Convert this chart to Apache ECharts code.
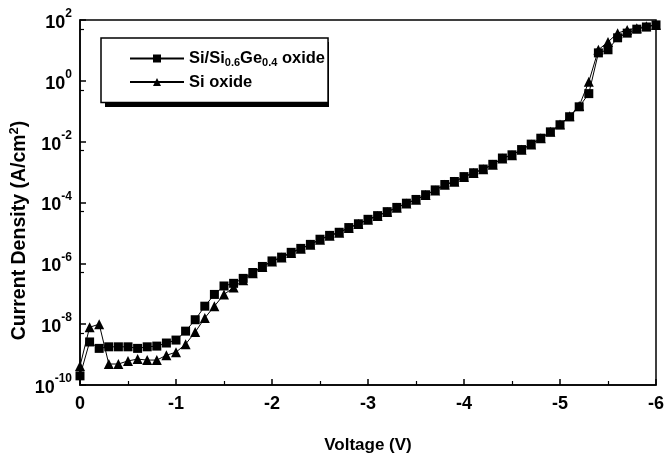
<!DOCTYPE html>
<html>
<head>
<meta charset="utf-8">
<script src="https://cdn.jsdelivr.net/npm/echarts@6/dist/echarts.min.js"></script>
<style>
  html, body { margin: 0; padding: 0; background: #fff; }
  #main { width: 666px; height: 457px; }
</style>
</head>
<body>
<div id="main"></div>
<script>
// gate voltage (V), 0.1 V steps
let voltage = [0, -0.1, -0.2, -0.3, -0.4, -0.5, -0.6, -0.7, -0.8, -0.9,
  -1.0, -1.1, -1.2, -1.3, -1.4, -1.5, -1.6, -1.7, -1.8, -1.9,
  -2.0, -2.1, -2.2, -2.3, -2.4, -2.5, -2.6, -2.7, -2.8, -2.9,
  -3.0, -3.1, -3.2, -3.3, -3.4, -3.5, -3.6, -3.7, -3.8, -3.9,
  -4.0, -4.1, -4.2, -4.3, -4.4, -4.5, -4.6, -4.7, -4.8, -4.9,
  -5.0, -5.1, -5.2, -5.3, -5.4, -5.5, -5.6, -5.7, -5.8, -5.9, -6.0];

// current density (A/cm2), Si/Si0.6Ge0.4 oxide
let sigeJ = [2.0e-10, 2.6e-9, 1.6e-9, 1.8e-9, 1.8e-9, 1.8e-9, 1.6e-9, 1.8e-9, 1.9e-9, 2.4e-9,
  3.0e-9, 5.9e-9, 1.4e-8, 3.9e-8, 9.5e-8, 1.8e-7, 2.2e-7, 3.2e-7, 5.0e-7, 7.9e-7,
  1.2e-6, 1.6e-6, 2.3e-6, 3.1e-6, 4.2e-6, 6.2e-6, 8.3e-6, 1.05e-5, 1.5e-5, 2.0e-5,
  2.8e-5, 3.7e-5, 5.0e-5, 6.9e-5, 9.5e-5, 1.26e-4, 1.8e-4, 2.6e-4, 3.9e-4, 4.9e-4,
  7.1e-4, 9.5e-4, 1.26e-3, 1.8e-3, 2.9e-3, 3.7e-3, 5.5e-3, 8.3e-3, 1.3e-2, 2.1e-2,
  3.6e-2, 6.6e-2, 0.14, 0.38, 8.3, 10.5, 26, 37, 50, 59, 69];

// current density (A/cm2), Si oxide
let siJ = [4.2e-10, 7.9e-9, 1.0e-8, 4.9e-10, 4.9e-10, 6.2e-10, 7.1e-10, 6.6e-10, 6.6e-10, 9.5e-10,
  1.2e-9, 2.2e-9, 5.5e-9, 1.6e-8, 3.9e-8, 9.5e-8, 1.6e-7, 2.8e-7, 4.7e-7, 7.6e-7,
  1.15e-6, 1.55e-6, 2.2e-6, 3.0e-6, 4.1e-6, 6.0e-6, 8.1e-6, 1.02e-5, 1.45e-5, 1.95e-5,
  2.7e-5, 3.6e-5, 4.9e-5, 6.7e-5, 9.3e-5, 1.23e-4, 1.75e-4, 2.5e-4, 3.8e-4, 4.8e-4,
  6.9e-4, 9.3e-4, 1.23e-3, 1.75e-3, 2.8e-3, 3.6e-3, 5.4e-3, 8.1e-3, 1.3e-2, 2.1e-2,
  3.7e-2, 6.9e-2, 0.15, 0.93, 10.5, 19, 37, 47, 54, 62, 69];

let seriesNames = ['Si/Si0.6Ge0.4 oxide', 'Si oxide'];

function pairs(ys) {
  let out = [];
  for (let i = 0; i < voltage.length; i++) {
    out.push([voltage[i], ys[i]]);
  }
  return out;
}

let chartDom = document.getElementById('main');
let myChart = echarts.init(chartDom, null, { renderer: 'canvas' });
let font = '"Liberation Sans", Arial, sans-serif';

let option = {
  animation: false,
  backgroundColor: '#fff',
  textStyle: { fontFamily: font },
  grid: {
    left: 80,
    right: 10,
    top: 20,
    bottom: 72,
    outerBoundsMode: 'none',
    containLabel: false,
    show: true,
    borderColor: '#000',
    borderWidth: 1.5,
    backgroundColor: 'transparent'
  },
  // drop shadow behind the legend box
  graphic: [
    {
      type: 'rect',
      z: 0,
      shape: { x: 105, y: 42, width: 224, height: 65 },
      style: { fill: '#000' }
    }
  ],
  legend: {
    data: seriesNames,
    orient: 'vertical',
    left: 101,
    top: 38,
    z: 5,
    itemWidth: 54,
    itemHeight: 10,
    itemGap: 5,
    padding: [12, 3, 12, 28],
    backgroundColor: '#fff',
    borderColor: '#000',
    borderWidth: 1.5,
    borderRadius: 0,
    formatter: function (name) {
      if (name === seriesNames[0]) {
        return '{t|Si/Si}{s|0.6}{t|Ge}{s|0.4}{t| oxide}';
      }
      return '{t|Si oxide}';
    },
    textStyle: {
      rich: {
        t: { fontSize: 16.5, fontWeight: 'bold', color: '#000', fontFamily: font, lineHeight: 20 },
        s: { fontSize: 11, fontWeight: 'bold', color: '#000', fontFamily: font, lineHeight: 20, verticalAlign: 'bottom' }
      }
    }
  },
  xAxis: {
    type: 'value',
    inverse: true,
    min: -6,
    max: 0,
    interval: 1,
    name: 'Voltage (V)',
    nameLocation: 'middle',
    nameGap: 52,
    nameTextStyle: { fontSize: 17, fontWeight: 'bold', color: '#000', fontFamily: font },
    axisLine: { onZero: false, lineStyle: { color: '#000', width: 1.5 } },
    axisTick: { inside: true, length: 6, lineStyle: { color: '#000', width: 1.5 } },
    minorTick: { show: true, splitNumber: 2, length: 4, lineStyle: { color: '#000', width: 1.2 } },
    axisLabel: {
      fontSize: 18, fontWeight: 'bold', color: '#000', margin: 10, fontFamily: font,
      formatter: function (v) { return String(v); }
    },
    splitLine: { show: false }
  },
  yAxis: {
    type: 'log',
    logBase: 10,
    min: 1e-10,
    max: 100,
    interval: 2,
    name: '{t|Current Density (A/cm}{s|2}{t|)}',
    nameLocation: 'middle',
    nameRotate: 90,
    nameGap: 48,
    nameMoveOverlap: false,
    nameTextStyle: {
      padding: [0, 56, 0, 0],
      rich: {
        t: { fontSize: 19.5, fontWeight: 'bold', color: '#000', fontFamily: font, lineHeight: 24 },
        s: { fontSize: 13, fontWeight: 'bold', color: '#000', fontFamily: font, lineHeight: 24, verticalAlign: 'top' }
      }
    },
    axisLine: { lineStyle: { color: '#000', width: 1.5 } },
    axisTick: { inside: true, length: 6, lineStyle: { color: '#000', width: 1.5 } },
    minorTick: { show: true, splitNumber: 2, length: 4, lineStyle: { color: '#000', width: 1.2 } },
    axisLabel: {
      margin: 8,
      formatter: function (v) {
        let e = Math.round(Math.log10(v));
        return '{b|10}{e|' + e + '}';
      },
      rich: {
        b: { fontSize: 18, fontWeight: 'bold', color: '#000', fontFamily: font, lineHeight: 24, verticalAlign: 'bottom' },
        e: { fontSize: 12, fontWeight: 'bold', color: '#000', fontFamily: font, lineHeight: 24, verticalAlign: 'top' }
      }
    },
    splitLine: { show: false }
  },
  series: [
    {
      name: seriesNames[0],
      type: 'line',
      data: pairs(sigeJ),
      z: 3,
      symbol: 'rect',
      symbolSize: 9,
      color: '#000',
      itemStyle: { color: '#000' },
      lineStyle: { color: '#000', width: 1 }
    },
    {
      name: seriesNames[1],
      type: 'line',
      data: pairs(siJ),
      z: 2,
      symbol: 'triangle',
      symbolSize: 10,
      color: '#000',
      itemStyle: { color: '#000' },
      lineStyle: { color: '#000', width: 1 }
    }
  ]
};

myChart.setOption(option);
</script>
</body>
</html>
